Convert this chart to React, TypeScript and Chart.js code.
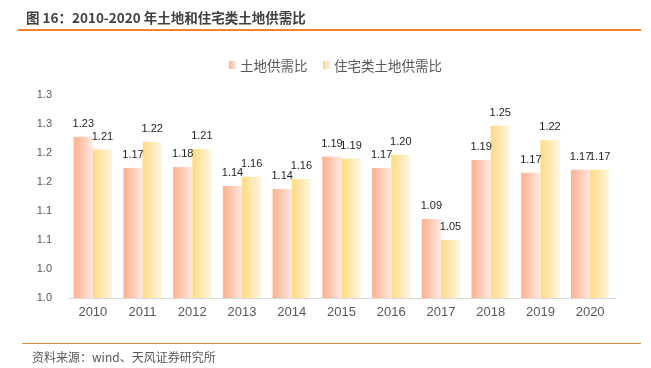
import React, { useEffect, useRef } from "react";
import { Chart, registerables } from "chart.js";

Chart.register(...registerables);

const categories = ["2010", "2011", "2012", "2013", "2014", "2015", "2016", "2017", "2018", "2019", "2020"];
const landRatio = [1.228, 1.174, 1.176, 1.143, 1.138, 1.194, 1.174, 1.086, 1.188, 1.166, 1.171];
const housingRatio = [1.206, 1.219, 1.207, 1.159, 1.155, 1.190, 1.197, 1.050, 1.247, 1.222, 1.171];
const seriesNames = ["土地供需比", "住宅类土地供需比"];
const yMin = 0.95;
const yMax = 1.3;
const yStep = 0.05;

const CAT_PCT = 0.77;
const gradStops = [
  ["#FFB08C", "#FFE8E2"],
  ["#FFDA80", "#FFF6E2"],
];
const fallback = ["#FFC9B0", "#FFE8A8"];

function barGradient(context: any) {
  const chart = context.chart;
  const xs = chart.scales && chart.scales.x;
  if (!xs || !chart.chartArea || context.dataIndex === undefined) return fallback[context.datasetIndex] || fallback[0];
  const ds = context.datasetIndex;
  const center = xs.getPixelForValue(context.dataIndex);
  const catW = xs.width / categories.length;
  const bw = (catW * CAT_PCT) / 2;
  const x0 = ds === 0 ? center - bw : center;
  const x1 = x0 + bw;
  const g = chart.ctx.createLinearGradient(x0, 0, x1, 0);
  g.addColorStop(0, gradStops[ds][0]);
  g.addColorStop(1, gradStops[ds][1]);
  return g;
}

const valueLabels = {
  id: "valueLabels",
  afterDatasetsDraw(chart: any) {
    const ctx = chart.ctx;
    ctx.save();
    ctx.font = "11px 'Liberation Sans', Arial, sans-serif";
    ctx.fillStyle = "#1f1f1f";
    ctx.textAlign = "center";
    ctx.textBaseline = "middle";
    chart.data.datasets.forEach((ds: any, di: number) => {
      const meta = chart.getDatasetMeta(di);
      meta.data.forEach((el: any, i: number) => {
        ctx.fillText(Number(ds.data[i]).toFixed(2), el.x, el.y - 13);
      });
    });
    ctx.restore();
  },
};

export default function App() {
  const ref = useRef<HTMLCanvasElement | null>(null);
  useEffect(() => {
    document.body.style.margin = "0";
    if (!ref.current) return;
    const chart = new Chart(ref.current, {
      type: "bar",
      data: {
        labels: categories,
        datasets: [
          { label: seriesNames[0], data: landRatio, backgroundColor: barGradient, borderWidth: 0 },
          { label: seriesNames[1], data: housingRatio, backgroundColor: barGradient, borderWidth: 0 },
        ],
      },
      options: {
        responsive: false,
        animation: false,
        maintainAspectRatio: false,
        layout: { padding: { top: 95, right: 36, bottom: 46, left: 0 } },
        datasets: { bar: { categoryPercentage: CAT_PCT, barPercentage: 1 } },
        plugins: { legend: { display: false }, tooltip: { enabled: false } },
        scales: {
          x: {
            grid: { display: false, drawTicks: false },
            border: { display: true, color: "#d9d9d9", width: 1 },
            ticks: { color: "#595959", font: { size: 13, family: "'Liberation Sans', Arial, sans-serif" }, padding: 7 },
            afterFit: (s: any) => { s.height = 24; },
          },
          y: {
            min: yMin,
            max: yMax,
            grid: { display: false, drawTicks: false },
            border: { display: false },
            ticks: {
              stepSize: yStep,
              color: "#595959",
              padding: 16,
              font: { size: 11, family: "'Liberation Sans', Arial, sans-serif" },
              callback: (v: any) => (Math.round(Number(v) * 10 + 1e-6) / 10).toFixed(1),
            },
            afterFit: (s: any) => { s.width = 68; },
          },
        },
      },
      plugins: [valueLabels],
    });
    return () => chart.destroy();
  }, []);

  const legendItem = (name: string, ds: number, left: number) => (
    <div style={{ position: "absolute", left, top: 56, display: "flex", alignItems: "center", height: 18 }}>
      <span
        style={{
          display: "inline-block",
          width: 7,
          height: 8,
          background: `linear-gradient(to right, ${gradStops[ds][0]}, ${gradStops[ds][1]})`,
          marginRight: 4,
        }}
      />
      <span style={{ fontSize: 13.5, color: "#595959" }}>{name}</span>
    </div>
  );

  return (
    <div style={{ position: "relative", width: 651, height: 368, background: "#fff", fontFamily: "'Noto Sans CJK SC', 'Liberation Sans', sans-serif", overflow: "hidden" }}>
      <canvas ref={ref} width={651} height={368} style={{ position: "absolute", left: 0, top: 0 }} />
      <div style={{ position: "absolute", left: 26, top: 7, fontSize: 13.5, fontWeight: 700, color: "#404040", lineHeight: "20px" }}>
        图 16：2010-2020 年土地和住宅类土地供需比
      </div>
      <div style={{ position: "absolute", left: 18, right: 10, top: 29, height: 1.5, background: "#F58220" }} />
      {legendItem(seriesNames[0], 0, 229)}
      {legendItem(seriesNames[1], 1, 323)}
      <div style={{ position: "absolute", left: 22, right: 10, top: 343, height: 1, background: "#E08A3C" }} />
      <div style={{ position: "absolute", left: 32, top: 348, fontSize: 12, color: "#595959", lineHeight: "18px" }}>
        资料来源：wind、天风证券研究所
      </div>
    </div>
  );
}
